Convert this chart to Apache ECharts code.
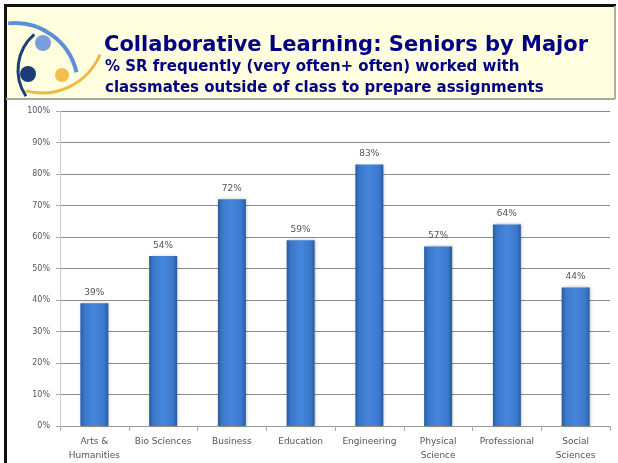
<!DOCTYPE html>
<html>
<head>
<meta charset="utf-8">
<script src="https://cdn.jsdelivr.net/npm/echarts@6/dist/echarts.min.js"></script>
<style>
  html, body { margin: 0; padding: 0; background: #fff; }
  #main { width: 618px; height: 463px; }
</style>
</head>
<body>
<div id="main"></div>
<script>
// data
var majors = ['Arts &\nHumanities', 'Bio Sciences', 'Business', 'Education', 'Engineering', 'Physical\nScience', 'Professional', 'Social\nSciences'];
var pctFrequent = [39, 54, 72, 59, 83, 57, 64, 44];
var yTicks = [0, 10, 20, 30, 40, 50, 60, 70, 80, 90, 100];

var myChart = echarts.init(document.getElementById('main'));

var barFill = new echarts.graphic.LinearGradient(0, 0, 1, 0, [
  { offset: 0, color: '#2b5aa0' },
  { offset: 0.15, color: '#3a78cc' },
  { offset: 0.5, color: '#4687da' },
  { offset: 0.85, color: '#3a78cc' },
  { offset: 1, color: '#2b5aa0' }
]);

myChart.setOption({
  animation: false,
  backgroundColor: '#ffffff',
  graphic: [
    // header band + frame
    { type: 'rect', shape: { x: 6, y: 6, width: 609, height: 93 }, style: { fill: '#ffffe0' }, z: 0 },
    { type: 'rect', shape: { x: 4, y: 4, width: 612, height: 3 }, style: { fill: '#111' }, z: 1 },
    { type: 'rect', shape: { x: 4, y: 4, width: 3, height: 459 }, style: { fill: '#111' }, z: 1 },
    { type: 'rect', shape: { x: 6, y: 98, width: 609, height: 2 }, style: { fill: '#a8a8a8' }, z: 1 },
    { type: 'rect', shape: { x: 614, y: 6, width: 2, height: 93 }, style: { fill: '#b0b0a0' }, z: 1 },
    // logo
    { type: 'arc', shape: { cx: 15, cy: 86, r: 63, startAngle: -1.68, endAngle: -0.22 },
      style: { stroke: '#5d8fd6', lineWidth: 4, fill: null }, z: 2 },
    { type: 'arc', shape: { cx: 65, cy: 70, r: 47, startAngle: 2.55, endAngle: 4.0 },
      style: { stroke: '#1d3f78', lineWidth: 3, fill: null }, z: 2 },
    { type: 'arc', shape: { cx: 42, cy: 30, r: 63, startAngle: 0.4, endAngle: 1.83 },
      style: { stroke: '#f0b848', lineWidth: 3, fill: null }, z: 2 },
    { type: 'circle', shape: { cx: 43, cy: 43, r: 8 }, style: { fill: '#7b9ddc' }, z: 3 },
    { type: 'circle', shape: { cx: 28, cy: 74, r: 8 }, style: { fill: '#1a3c78' }, z: 3 },
    { type: 'circle', shape: { cx: 62, cy: 75, r: 7 }, style: { fill: '#f2be50' }, z: 3 },
    // header text
    { type: 'text', left: 104, top: 35, z: 4,
      style: { text: 'Collaborative Learning: Seniors by Major', fill: '#000080',
        font: 'bold 21px "DejaVu Sans", Verdana, sans-serif' } },
    { type: 'text', left: 105, top: 57, z: 4,
      style: { text: '% SR frequently (very often+ often) worked with\nclassmates outside of class to prepare assignments',
        fill: '#000080', lineHeight: 21,
        font: 'bold 15px "DejaVu Sans", Verdana, sans-serif' } }
  ],
  grid: { left: 60, right: 8, top: 111, bottom: 36 },
  xAxis: {
    type: 'category',
    data: majors,
    axisLine: { lineStyle: { color: '#999', width: 1 } },
    axisTick: { show: true, length: 5, lineStyle: { color: '#aaa' } },
    axisLabel: { color: '#555', fontSize: 9, lineHeight: 14, margin: 9, interval: 0,
      fontFamily: '"DejaVu Sans", sans-serif' }
  },
  yAxis: {
    type: 'value',
    min: yTicks[0],
    max: yTicks[yTicks.length - 1],
    interval: yTicks[1] - yTicks[0],
    axisLine: { show: true, lineStyle: { color: '#ccc' } },
    axisTick: { show: true, length: 4, lineStyle: { color: '#aaa' } },
    axisLabel: { color: '#555', fontSize: 8, margin: 10, formatter: '{value}%',
      fontFamily: '"DejaVu Sans", sans-serif' },
    splitLine: { lineStyle: { color: '#8a8a8a', width: 1 } }
  },
  series: [
    {
      name: 'Seniors',
      type: 'bar',
      data: pctFrequent,
      barWidth: 28,
      itemStyle: {
        color: barFill,
        shadowColor: 'rgba(0,0,0,0.25)',
        shadowBlur: 3,
        shadowOffsetX: 1,
        shadowOffsetY: 0
      },
      label: {
        show: true,
        position: 'top',
        distance: 6,
        formatter: '{c}%',
        color: '#555',
        fontSize: 9,
        fontFamily: '"DejaVu Sans", sans-serif'
      }
    }
  ]
});
</script>
</body>
</html>
